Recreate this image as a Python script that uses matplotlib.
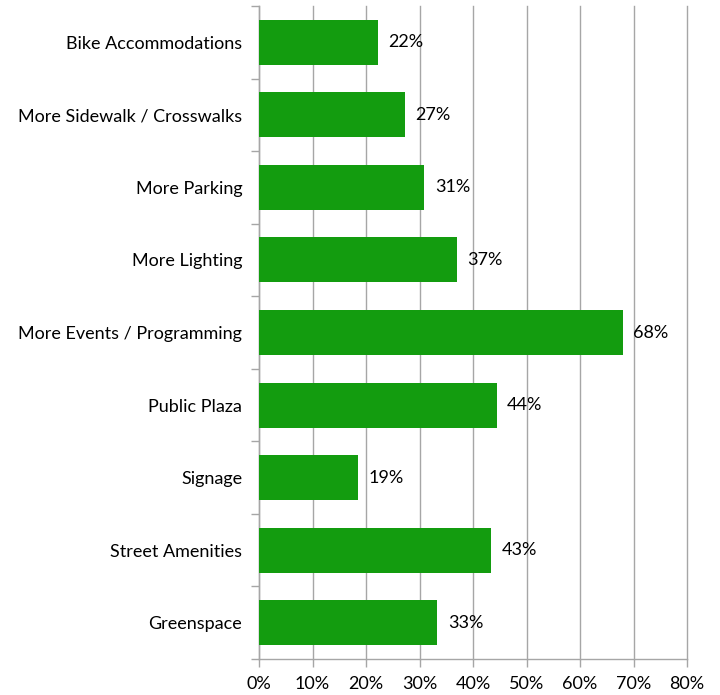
import matplotlib
matplotlib.use("Agg")
import matplotlib.pyplot as plt
import numpy as np
from matplotlib.ticker import FixedLocator, PercentFormatter

categories = ["Bike Accommodations", "More Sidewalk / Crosswalks", "More Parking",
              "More Lighting", "More Events / Programming", "Public Plaza",
              "Signage", "Street Amenities", "Greenspace"]
values = [22.2, 27.2, 30.9, 37.0, 68.0, 44.4, 18.5, 43.3, 33.3]
labels = ["22%", "27%", "31%", "37%", "68%", "44%", "19%", "43%", "33%"]
xticks = [0, 10, 20, 30, 40, 50, 60, 70, 80]

plt.rcParams['font.family'] = ['Lato', 'DejaVu Sans']
fig = plt.figure(figsize=(7.2, 6.95), dpi=100)
ax = fig.add_axes([259/720, 36/695, 428/720, 653/695])

n = len(categories)
y = np.arange(n)[::-1]
grid_c = "#A6A6A6"
ax.barh(y, values, height=0.62, color="#139C0F", zorder=3)
for yi, v, lab in zip(y, values, labels):
    ax.text(v + 2.0, yi, lab, va="center", ha="left", fontsize=13, color="black", zorder=4)

ax.set_xlim(0, 80)
ax.set_ylim(-0.5, n - 0.5)
ax.set_xticks(xticks)
ax.xaxis.set_major_formatter(PercentFormatter(decimals=0))
ax.set_yticks(y)
ax.set_yticklabels(categories, fontsize=13)
ax.yaxis.set_minor_locator(FixedLocator(np.arange(-0.5, n, 1.0)))
ax.tick_params(axis="y", which="major", length=0, pad=12)
ax.tick_params(axis="y", which="minor", length=6, color=grid_c, width=1)
ax.tick_params(axis="x", length=6, color=grid_c, width=1, labelsize=13, pad=6)
ax.grid(axis="x", color=grid_c, linewidth=1, zorder=0)
for gl in ax.get_xgridlines():
    gl.set_clip_on(False)
for s in ["top", "right"]:
    ax.spines[s].set_visible(False)
for s in ["left", "bottom"]:
    ax.spines[s].set_color(grid_c)
    ax.spines[s].set_linewidth(1)

fig.savefig("out.png", dpi=100)
